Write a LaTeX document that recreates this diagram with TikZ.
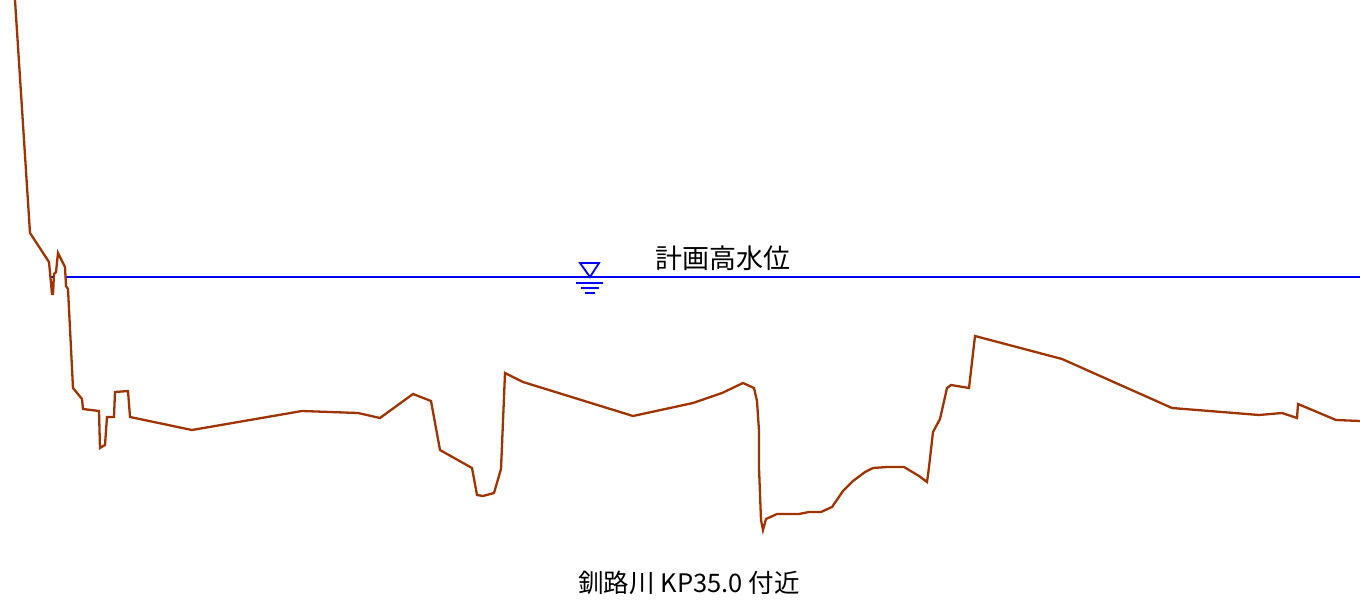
\documentclass[tikz,border=0pt]{standalone}
\usepackage{fontspec}
\newfontfamily\jpfont{Noto Sans CJK JP}
\usetikzlibrary{positioning}
\definecolor{groundbrown}{RGB}{160,52,0}
\definecolor{waterblue}{RGB}{0,0,255}
\tikzset{
 ground/.style={draw=groundbrown,line width=2.3pt,line join=miter},
 waterline/.style={draw=waterblue,line width=2.2pt},
 watermark/.style={draw=waterblue,line width=1.8pt},
 caption/.style={font=\jpfont\fontsize{25.5}{27}\selectfont,inner sep=0pt},
 bigcaption/.style={caption,font=\jpfont\fontsize{27}{29}\selectfont}}

\begin{document}
\begin{tikzpicture}[x=1pt,y=-1pt]
  \useasboundingbox (0,0) rectangle (1360,604);
  % planned high water level
  \draw[waterline] (50,277) -- (54,277);
  \draw[waterline] (66,277) -- (1360,277);
  \draw[watermark] (580,263) -- (599,263) -- (590,277) -- cycle;
  \draw[watermark] (576,283) -- (603,283);
  \draw[watermark] (581,288) -- (599,288);
  \draw[watermark] (585,293) -- (595,293);
  \node[bigcaption] (hwl) at (723,258) {計画高水位};
  % cross section
  \draw[ground] (15,0) -- (30,233) -- (49,262) -- (52,294) -- (53,294)
    -- (54,274) -- (56,272) -- (58,253) -- (65,267) -- (66,286) -- (68,289)
    -- (73,388) -- (82,399) -- (83,409) -- (99,411) -- (100,448) -- (105,445)
    -- (107,417) -- (114,417) -- (115,392) -- (128,391) -- (130,417)
    -- (192,430) -- (302,411) -- (358,413) -- (380,418) -- (413,394)
    -- (431,401) -- (440,450) -- (472,468) -- (477,495) -- (483,496)
    -- (494,493) -- (501,469) -- (505,373) -- (523,382) -- (633,416)
    -- (693,403) -- (722,393) -- (743,383) -- (754,388) -- (757,401)
    -- (759,431) -- (759,468) -- (761,520) -- (763,530) -- (766,519)
    -- (777,514) -- (799,514) -- (809,512) -- (821,512) -- (832,507)
    -- (843,491) -- (853,481) -- (865,472) -- (873,468) -- (887,467)
    -- (904,467) -- (919,476) -- (927,482) -- (929,467) -- (933,432)
    -- (940,419) -- (947,388) -- (951,385) -- (969,388) -- (975,336)
    -- (1062,359) -- (1172,408) -- (1259,415) -- (1282,413) -- (1297,418)
    -- (1298,404) -- (1336,420) -- (1360,421);
  \node[caption] (title) at (689,583) {釧路川 KP35.0 付近};
\end{tikzpicture}
\end{document}
